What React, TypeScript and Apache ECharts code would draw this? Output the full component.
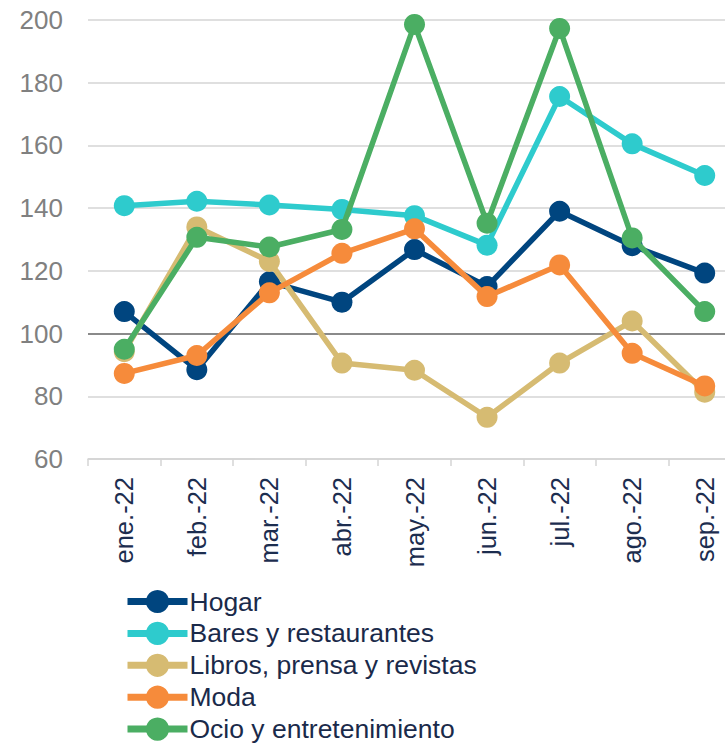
import React, { useEffect, useRef } from "react";
import * as echarts from "echarts";

const categories = ["ene.-22", "feb.-22", "mar.-22", "abr.-22", "may.-22", "jun.-22", "jul.-22", "ago.-22", "sep.-22"];
const hogar = [107, 88.5, 116.5, 110, 126.8, 115, 139, 128, 119.3];
const bares = [140.8, 142.2, 141, 139.6, 137.6, 128.2, 175.6, 160.5, 150.4];
const libros = [94.2, 134, 123, 90.6, 88.3, 73.3, 90.6, 104, 81.3];
const moda = [87.3, 93, 113, 125.6, 133.4, 111.8, 121.9, 93.7, 83.3];
const ocio = [95, 130.7, 127.6, 133.2, 198.6, 135.2, 197.3, 130.5, 107];

const seriesNames = ["Hogar", "Bares y restaurantes", "Libros, prensa y revistas", "Moda", "Ocio y entretenimiento"];
const seriesData = [hogar, bares, libros, moda, ocio];
const seriesColors = ["#00457f", "#2ecbcd", "#d6bb72", "#f68b3b", "#4bae63"];

export default function App() {
  const ref = useRef<HTMLDivElement>(null);
  useEffect(() => {
    if (!ref.current) return;
    const chart = echarts.init(ref.current, undefined, { renderer: "svg" });
    const font = "'Liberation Sans', Arial, sans-serif";
    chart.setOption({
      animation: false,
      backgroundColor: "#ffffff",
      grid: { left: 88, top: 20, width: 653, height: 439, containLabel: false, outerBoundsMode: "none" },
      xAxis: {
        type: "category",
        data: categories,
        boundaryGap: true,
        axisLine: { show: true, lineStyle: { color: "#d4d4d4", width: 1.5 } },
        axisTick: { show: true, alignWithLabel: false, length: 7, lineStyle: { color: "#d4d4d4", width: 1.5 } },
        axisLabel: { rotate: 90, margin: 18, fontSize: 25.5, color: "#1c2d4f", fontFamily: font, interval: 0 },
        splitLine: { show: false },
      },
      yAxis: {
        type: "value",
        min: 60,
        max: 200,
        interval: 20,
        axisLine: { show: false },
        axisTick: { show: false },
        axisLabel: { margin: 25, fontSize: 26, color: "#808080", fontFamily: font },
        splitLine: { show: true, lineStyle: { color: "#d4d4d4", width: 1.5 } },
      },
      legend: {
        orient: "vertical",
        left: 124,
        top: 588,
        height: 180,
        width: 500,
        padding: 0,
        itemWidth: 60,
        itemHeight: 29,
        itemGap: 4.9,
        lineStyle: { width: 7 },
        textStyle: { fontSize: 26.5, color: "#1a2a4a", fontFamily: font, padding: [0, 0, 0, -3] },
        data: seriesNames,
      },
      series: seriesNames.map((name, i) => ({
        name,
        type: "line",
        data: seriesData[i],
        symbol: "circle",
        symbolSize: 21,
        color: seriesColors[i],
        lineStyle: { width: 5.5, color: seriesColors[i] },
        itemStyle: { color: seriesColors[i] },
        z: 2 + i,
        ...(i === 0
          ? {
              markLine: {
                silent: true,
                symbol: "none",
                label: { show: false },
                lineStyle: { color: "#8a8a8a", type: "solid", width: 2 },
                data: [{ yAxis: 100 }],
                z: 1,
              },
            }
          : {}),
      })),
    });
    return () => chart.dispose();
  }, []);
  return <div ref={ref} style={{ position: "fixed", left: 0, top: 0, width: 725, height: 743 }} />;
}
